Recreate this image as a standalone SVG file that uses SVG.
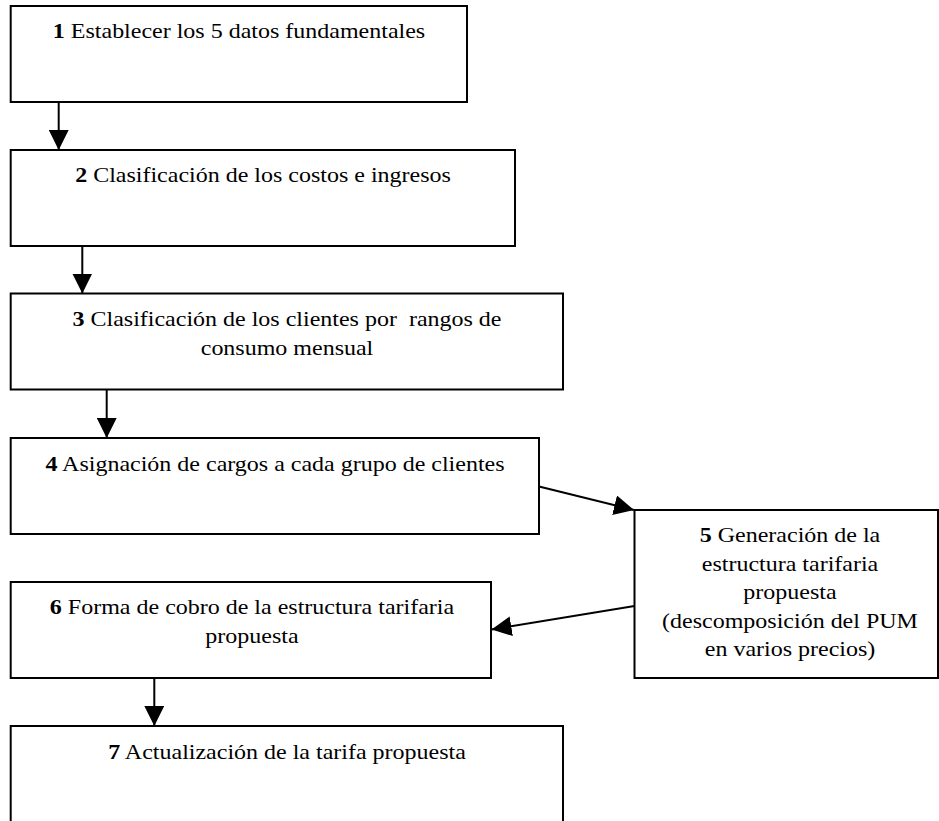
<svg xmlns="http://www.w3.org/2000/svg" width="939" height="821" viewBox="0 0 939 821">
  <style>
    .box { fill: #ffffff; stroke: #000000; stroke-width: 2; }
    .lbl { font-size: 20px; fill: #000000; text-anchor: middle; }
    .num { font-weight: bold; }
    .conn { stroke: #000000; stroke-width: 2; fill: none; marker-end: url(#arrow); }
  </style>
  <defs>
    <marker id="arrow" markerUnits="userSpaceOnUse" markerWidth="20" markerHeight="20" refX="20" refY="10" orient="auto" viewBox="0 0 20 20">
      <path d="M0,0 L20,10 L0,20 z" fill="#000000"/>
    </marker>
  </defs>
  <rect x="0" y="0" width="939" height="821" fill="#ffffff"/>

  <g font-family="'Liberation Serif', 'DejaVu Serif', serif">
  <g id="node1">
    <rect class="box" x="10.7" y="6" width="456.3" height="96"/>
    <g transform="translate(239,38) scale(1.2,1)"><text class="lbl" x="0" y="0"><tspan class="num">1</tspan> Establecer los 5 datos fundamentales</text></g>
  </g>

  <g id="node2">
    <rect class="box" x="10.7" y="150" width="504.3" height="96"/>
    <g transform="translate(263,182) scale(1.2,1)"><text class="lbl" x="0" y="0"><tspan class="num">2</tspan> Clasificación de los costos e ingresos</text></g>
  </g>

  <g id="node3">
    <rect class="box" x="10.7" y="293.5" width="552.3" height="96"/>
    <g transform="translate(287,326) scale(1.2,1)"><text class="lbl" x="0" y="0" xml:space="preserve"><tspan class="num">3</tspan> Clasificación de los clientes por  rangos de</text></g>
    <g transform="translate(287,355) scale(1.2,1)"><text class="lbl" x="0" y="0">consumo mensual</text></g>
  </g>

  <g id="node4">
    <rect class="box" x="10.7" y="438" width="528.3" height="96"/>
    <g transform="translate(275,470.5) scale(1.2,1)"><text class="lbl" x="0" y="0"><tspan class="num">4</tspan> Asignación de cargos a cada grupo de clientes</text></g>
  </g>

  <g id="node5">
    <rect class="box" x="634.5" y="510" width="303.5" height="168"/>
    <g transform="translate(790,542) scale(1.2,1)"><text class="lbl" x="0" y="0"><tspan class="num">5</tspan> Generación de la</text></g>
    <g transform="translate(790,570.5) scale(1.2,1)"><text class="lbl" x="0" y="0">estructura tarifaria</text></g>
    <g transform="translate(790,599) scale(1.2,1)"><text class="lbl" x="0" y="0">propuesta</text></g>
    <g transform="translate(790,627.5) scale(1.2,1)"><text class="lbl" x="0" y="0">(descomposición del PUM</text></g>
    <g transform="translate(790,656) scale(1.2,1)"><text class="lbl" x="0" y="0">en varios precios)</text></g>
  </g>

  <g id="node6">
    <rect class="box" x="10.7" y="582" width="480.3" height="96"/>
    <g transform="translate(252,614) scale(1.2,1)"><text class="lbl" x="0" y="0"><tspan class="num">6</tspan> Forma de cobro de la estructura tarifaria</text></g>
    <g transform="translate(252,642.5) scale(1.2,1)"><text class="lbl" x="0" y="0">propuesta</text></g>
  </g>

  <g id="node7">
    <rect class="box" x="10.7" y="726" width="552.3" height="110"/>
    <g transform="translate(287,759) scale(1.2,1)"><text class="lbl" x="0" y="0"><tspan class="num">7</tspan> Actualización de la tarifa propuesta</text></g>
  </g>
  </g>

  <g id="connectors">
    <line class="conn" x1="58.7" y1="102" x2="58.7" y2="150"/>
    <line class="conn" x1="82.3" y1="246" x2="82.3" y2="293.5"/>
    <line class="conn" x1="106.7" y1="389.5" x2="106.7" y2="438"/>
    <line class="conn" x1="539" y1="486.5" x2="634" y2="510"/>
    <line class="conn" x1="634.5" y1="606" x2="491.5" y2="629.5"/>
    <line class="conn" x1="154.3" y1="678" x2="154.3" y2="726"/>
  </g>
</svg>
